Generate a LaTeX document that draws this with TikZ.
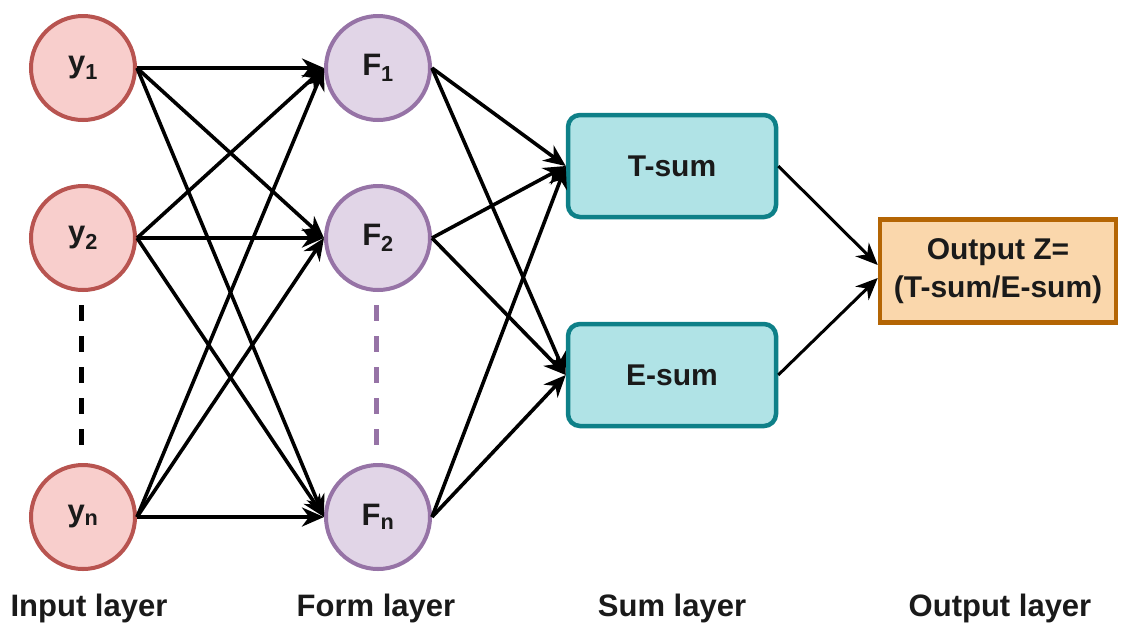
\documentclass[tikz,border=0pt]{standalone}
\usepackage{fontspec}
\setmainfont{Liberation Sans}
\usetikzlibrary{arrows.meta}
\definecolor{infill}{HTML}{F8CECC}
\definecolor{indraw}{HTML}{B85450}
\definecolor{formfill}{HTML}{E1D5E7}
\definecolor{formdraw}{HTML}{9673A6}
\definecolor{sumfill}{HTML}{B0E3E6}
\definecolor{sumdraw}{HTML}{0E8088}
\definecolor{outfill}{HTML}{FAD7AC}
\definecolor{outdraw}{HTML}{B46504}
\definecolor{inktext}{HTML}{1A1A1A}
\tikzset{
  inneuron/.style={circle, minimum size=104pt, inner sep=0pt, line width=4pt,
    draw=indraw, fill=infill, text=inktext, font=\fontsize{31}{34}\selectfont\bfseries},
  formneuron/.style={circle, minimum size=104pt, inner sep=0pt, line width=4pt,
    draw=formdraw, fill=formfill, text=inktext, font=\fontsize{31}{34}\selectfont\bfseries},
  sumbox/.style={rectangle, rounded corners=12pt, minimum width=208pt, minimum height=102pt,
    line width=4.5pt, draw=sumdraw, fill=sumfill, text=inktext, font=\fontsize{30}{34}\selectfont\bfseries},
  outbox/.style={rectangle, minimum width=236pt, minimum height=103pt, line width=4.5pt,
    draw=outdraw, fill=outfill, align=center, text=inktext, font=\fontsize{30}{38}\selectfont\bfseries},
  layerlabel/.style={text=inktext, font=\fontsize{31}{34}\selectfont\bfseries},
  link/.style={line width=3.6pt, -{Stealth[length=22pt,width=19pt,inset=7pt]}},
  thinlink/.style={line width=3pt, -{Stealth[length=22pt,width=19pt,inset=7pt]}},
  gap/.style={line width=5pt, dash pattern=on 16pt off 15pt}
}
\begin{document}
\begin{tikzpicture}[x=1pt,y=-1pt]
  \useasboundingbox (0,0) rectangle (1121,630);
  \fill[white] (0,0) rectangle (1121,630);

  % input layer
  \node[inneuron] (y1) at (83,68) {y\textsubscript{1}};
  \node[inneuron] (y2) at (83,238) {y\textsubscript{2}};
  \node[inneuron] (yn) at (83,517) {y\textsubscript{n}};

  % form layer
  \node[formneuron] (F1) at (378,68) {F\textsubscript{1}};
  \node[formneuron] (F2) at (378,238) {F\textsubscript{2}};
  \node[formneuron] (Fn) at (378,517) {F\textsubscript{n}};

  % sum layer
  \node[sumbox] (T) at (672,166) {T-sum};
  \node[sumbox] (E) at (672,375) {E-sum};

  % output
  \node[outbox] (Z) at (998,271) {Output Z=\\(T-sum/E-sum)};

  % omitted neurons
  \coordinate (ga) at (81,305);
  \coordinate (gb) at (81,447);
  \coordinate (fa) at (376,305);
  \coordinate (fb) at (376,447);
  \draw[gap, black] (ga) -- (gb);
  \draw[gap, formdraw] (fa) -- (fb);

  % input -> form
  \foreach \s in {y1,y2,yn}
    \foreach \t in {F1,F2,Fn}
      \draw[link] (\s.east) -- (\t.west);

  % form -> sum
  \foreach \s in {F1,F2,Fn}
    \foreach \t in {T,E}
      \draw[link] (\s.east) -- (\t.west);

  % sum -> output
  \draw[thinlink] (T.east) -- ([yshift=6pt]Z.west);
  \draw[thinlink] (E.east) -- ([yshift=-7pt]Z.west);

  % layer captions
  \node[layerlabel] (l1) at (89,608) {Input layer};
  \node[layerlabel] (l2) at (376,608) {Form layer};
  \node[layerlabel] (l3) at (672,608) {Sum layer};
  \node[layerlabel] (l4) at (1000,608) {Output layer};
\end{tikzpicture}
\end{document}
